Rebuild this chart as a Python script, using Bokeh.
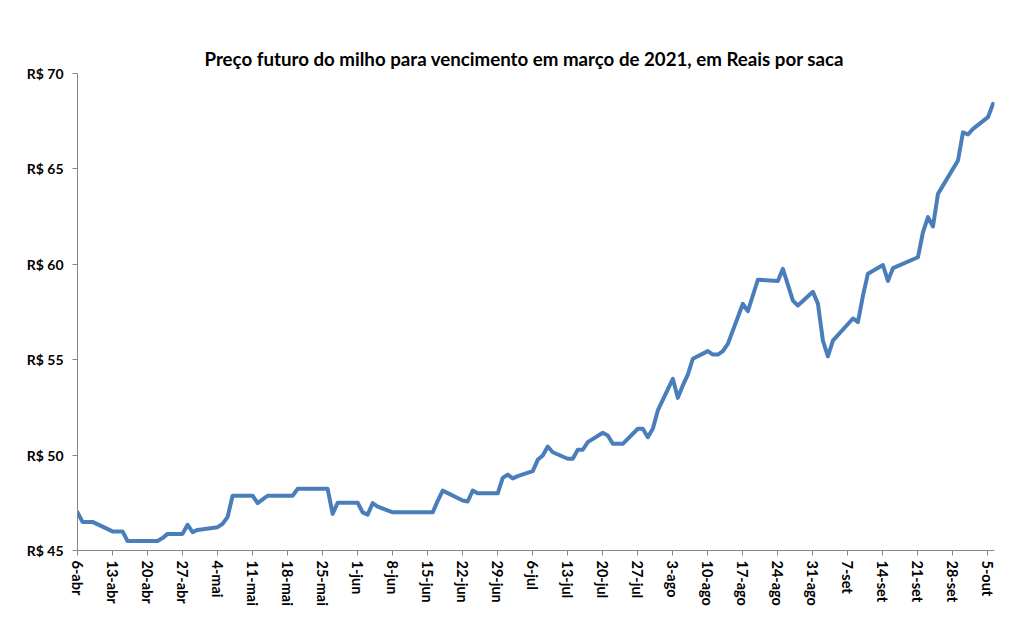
import pandas as pd
from bokeh.plotting import figure
from bokeh.models import Range1d, FixedTicker
from bokeh.embed import file_html
from bokeh.resources import INLINE

TITLE = "Preço futuro do milho para vencimento em março de 2021, em Reais por saca"

dates = [
    "2020-04-06", "2020-04-07", "2020-04-09", "2020-04-13", "2020-04-15", "2020-04-16",
    "2020-04-22", "2020-04-23", "2020-04-24", "2020-04-27", "2020-04-28", "2020-04-29",
    "2020-04-30", "2020-05-04", "2020-05-05", "2020-05-06", "2020-05-07", "2020-05-11",
    "2020-05-12", "2020-05-14", "2020-05-19", "2020-05-20", "2020-05-26", "2020-05-27",
    "2020-05-28", "2020-06-01", "2020-06-02", "2020-06-03", "2020-06-04", "2020-06-05",
    "2020-06-08", "2020-06-16", "2020-06-17", "2020-06-18", "2020-06-22", "2020-06-23",
    "2020-06-24", "2020-06-25", "2020-06-29", "2020-06-30", "2020-07-01", "2020-07-02",
    "2020-07-03", "2020-07-06", "2020-07-07", "2020-07-08", "2020-07-09", "2020-07-10",
    "2020-07-13", "2020-07-14", "2020-07-15", "2020-07-16", "2020-07-17", "2020-07-20",
    "2020-07-21", "2020-07-22", "2020-07-24", "2020-07-27", "2020-07-28", "2020-07-29",
    "2020-07-30", "2020-07-31", "2020-08-03", "2020-08-04", "2020-08-05", "2020-08-06",
    "2020-08-07", "2020-08-10", "2020-08-11", "2020-08-12", "2020-08-13", "2020-08-14",
    "2020-08-17", "2020-08-18", "2020-08-20", "2020-08-24", "2020-08-25", "2020-08-27",
    "2020-08-28", "2020-08-31", "2020-09-01", "2020-09-02", "2020-09-03", "2020-09-04",
    "2020-09-08", "2020-09-09", "2020-09-10", "2020-09-11", "2020-09-14", "2020-09-15",
    "2020-09-16", "2020-09-21", "2020-09-22", "2020-09-23", "2020-09-24", "2020-09-25",
    "2020-09-29", "2020-09-30", "2020-10-01", "2020-10-02", "2020-10-05", "2020-10-06",
]

prices = [
    47.00, 46.50, 46.50, 46.00, 46.00, 45.50,
    45.50, 45.65, 45.87, 45.87, 46.35, 45.96,
    46.08, 46.22, 46.40, 46.75, 47.87, 47.87,
    47.48, 47.87, 47.87, 48.23, 48.23, 46.92,
    47.50, 47.50, 47.00, 46.88, 47.48, 47.30,
    47.00, 47.00, 47.60, 48.14, 47.62, 47.57,
    48.14, 48.00, 48.00, 48.81, 48.98, 48.78,
    48.90, 49.16, 49.75, 49.98, 50.45, 50.15,
    49.81, 49.81, 50.28, 50.28, 50.68, 51.17,
    51.03, 50.59, 50.59, 51.38, 51.38, 50.94,
    51.38, 52.34, 54.00, 53.00, 53.65, 54.22,
    55.05, 55.45, 55.27, 55.27, 55.45, 55.83,
    57.93, 57.54, 59.19, 59.13, 59.76, 58.10,
    57.84, 58.56, 57.94, 56.00, 55.17, 56.00,
    57.16, 56.97, 58.35, 59.51, 59.96, 59.13,
    59.80, 60.37, 61.68, 62.47, 61.98, 63.69,
    65.44, 66.92, 66.80, 67.10, 67.71, 68.41,
]

x_tick_labels = [
    "6-abr", "13-abr", "20-abr", "27-abr", "4-mai", "11-mai", "18-mai", "25-mai",
    "1-jun", "8-jun", "15-jun", "22-jun", "29-jun", "6-jul", "13-jul", "20-jul",
    "27-jul", "3-ago", "10-ago", "17-ago", "24-ago", "31-ago", "7-set", "14-set",
    "21-set", "28-set", "5-out",
]

y_ticks = [45, 50, 55, 60, 65, 70]
y_tick_labels = ["R$ 45", "R$ 50", "R$ 55", "R$ 60", "R$ 65", "R$ 70"]

x = pd.to_datetime(dates)
DAY_MS = 86400000.0
start = pd.Timestamp("2020-04-06")
tick_dates = pd.date_range(start, periods=len(x_tick_labels), freq="7D")
tick_ms = [float(t.value // 10**6) for t in tick_dates]
start_ms = float(start.value // 10**6)

p = figure(
    width=1000, height=616,
    x_axis_type="datetime",
    output_backend="svg", toolbar_location=None,
    x_range=Range1d(start_ms, start_ms + 183.3 * DAY_MS),
    y_range=Range1d(45, 70),
    min_border_left=77, min_border_right=6,
    min_border_top=73, min_border_bottom=66,
    title=TITLE,
)
p.outline_line_color = None
p.background_fill_color = "white"
p.border_fill_color = "white"
p.xgrid.visible = False
p.ygrid.visible = False

p.title.align = "left"
p.title.offset = 127
p.title.text_font = "Lato"
p.title.text_font_style = "bold"
p.title.text_font_size = "18.7px"
p.title.text_color = "black"
p.title.standoff = 8

p.line(x, prices, line_color="#4a7ebb", line_width=4, line_join="round", line_cap="round")

xa = p.xaxis[0]
xa.ticker = FixedTicker(ticks=tick_ms)
xa.major_label_overrides = {t: lab for t, lab in zip(tick_ms, x_tick_labels)}
xa.major_label_orientation = "vertical"
xa.minor_tick_line_color = None
xa.major_tick_in = 0
xa.major_tick_out = 5
xa.major_label_standoff = 5

ya = p.yaxis[0]
ya.ticker = FixedTicker(ticks=y_ticks)
ya.major_label_overrides = {float(t): lab for t, lab in zip(y_ticks, y_tick_labels)}
ya.minor_tick_line_color = None
ya.major_tick_in = 0
ya.major_tick_out = 5
ya.major_label_standoff = 9

for ax in (xa, ya):
    ax.axis_line_color = "#868686"
    ax.major_tick_line_color = "#868686"
    ax.major_label_text_font = "Lato"
    ax.major_label_text_font_style = "bold"
    ax.major_label_text_color = "black"
xa.major_label_text_font_size = "14.5px"
ya.major_label_text_font_size = "14px"

open("out.html", "w").write(file_html(p, INLINE))
